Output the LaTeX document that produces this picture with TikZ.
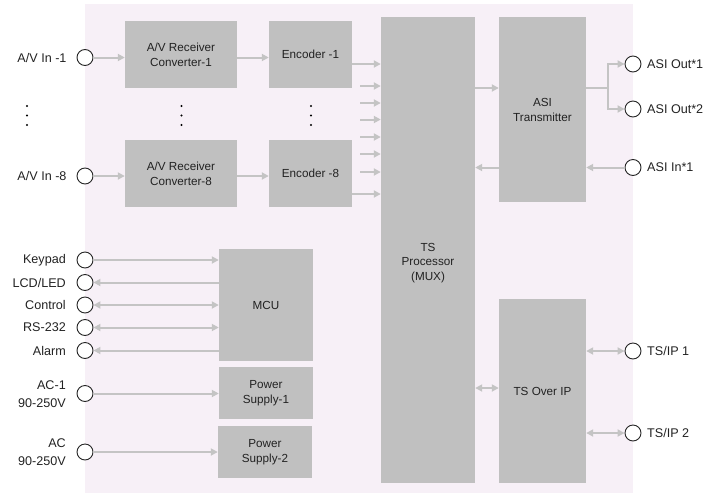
\documentclass[tikz,border=0pt]{standalone}
\usepackage{fontspec}
\setmainfont{Liberation Sans}
\usetikzlibrary{arrows.meta}
\definecolor{bgc}{RGB}{247,240,247}
\definecolor{boxc}{RGB}{192,192,192}
\definecolor{arrc}{RGB}{196,196,196}
\definecolor{txtc}{RGB}{34,34,34}
\begin{document}
\begin{tikzpicture}[x=1pt,y=-1pt,
  blk/.style={fill=boxc, draw=none, inner sep=0pt, align=center,
    font=\fontsize{11.7}{15}\selectfont, text=txtc},
  port/.style={circle, draw=black!85, line width=0.9pt, fill=white,
    minimum size=16pt, inner sep=0pt},
  lab/.style={font=\fontsize{12.6}{18}\selectfont, text=txtc, inner sep=0pt},
  conn/.style={draw=arrc, line width=2pt},
  fwd/.style={conn, -{Triangle[length=7pt,width=7pt]}},
  both/.style={conn, {Triangle[length=7pt,width=7pt]}-{Triangle[length=7pt,width=7pt]}},
  dotc/.style={fill=black}
]
\useasboundingbox (0,0) rectangle (704,493);
\fill[bgc] (85,4) rectangle (633,493);

% blocks
\node[blk, minimum width=112pt, minimum height=67pt] (conv1) at (181,54.5) {A/V Receiver\\Converter-1};
\node[blk, minimum width=83pt, minimum height=67pt] (enc1) at (310.5,54.5) {Encoder -1};
\node[blk, minimum width=112pt, minimum height=67pt] (conv8) at (181,173.5) {A/V Receiver\\Converter-8};
\node[blk, minimum width=83pt, minimum height=67pt] (enc8) at (310.5,173.5) {Encoder -8};
\node[blk, minimum width=94pt, minimum height=466pt,
  label={[blk, font=\fontsize{11.7}{14.5}\selectfont, yshift=-13pt]center:{TS\\Processor\\(MUX)}}] (ts) at (428,250) {};
\node[blk, minimum width=87pt, minimum height=185pt] (asi) at (542.5,109.5) {ASI\\Transmitter};
\node[blk, minimum width=87pt, minimum height=184pt] (tsoip) at (542.5,391) {TS Over IP};
\node[blk, minimum width=94pt, minimum height=112pt] (mcu) at (266,305) {MCU};
\node[blk, minimum width=94pt, minimum height=52pt] (ps1) at (266,393) {Power\\Supply-1};
\node[blk, minimum width=94pt, minimum height=52pt] (ps2) at (265,452) {Power\\Supply-2};

% ports
\node[port] (avin1) at (85,57.5) {};
\node[port] (avin8) at (85,176) {};
\node[port] (keypad) at (85,260) {};
\node[port] (lcd) at (85,282.5) {};
\node[port] (control) at (85,305) {};
\node[port] (rs232) at (85,327.5) {};
\node[port] (alarm) at (85,350.5) {};
\node[port] (ac1) at (85,393.5) {};
\node[port] (ac2) at (85,452) {};
\node[port] (asiout1) at (633,64) {};
\node[port] (asiout2) at (633,109) {};
\node[port] (asiin) at (633,167.5) {};
\node[port] (tsip1) at (633,351) {};
\node[port] (tsip2) at (633,433) {};

% labels
\node[lab, anchor=east] (lavin1) at (66.7,57.5) {A/V In -1};
\node[lab, anchor=east] (lavin8) at (66.7,176) {A/V In -8};
\node[lab, anchor=east] (lkeypad) at (66,260) {Keypad};
\node[lab, anchor=east] (llcd) at (66,282.5) {LCD/LED};
\node[lab, anchor=east] (lcontrol) at (66,305) {Control};
\node[lab, anchor=east] (lrs232) at (66,327.5) {RS-232};
\node[lab, anchor=east] (lalarm) at (66,350.5) {Alarm};
\node[lab, anchor=east, align=right] (lac1) at (66,394) {AC-1\\90-250V};
\node[lab, anchor=east, align=right] (lac2) at (66,452) {AC\\90-250V};
\node[lab, anchor=west] (lasiout1) at (647,64) {ASI Out*1};
\node[lab, anchor=west] (lasiout2) at (647,109) {ASI Out*2};
\node[lab, anchor=west] (lasiin) at (647,167.5) {ASI In*1};
\node[lab, anchor=west] (ltsip1) at (647,351) {TS/IP 1};
\node[lab, anchor=west] (ltsip2) at (647,433) {TS/IP 2};

% dots
\foreach \xx in {27,181.5,311}{
  \foreach \yy in {106,115.5,125}{
    \fill[dotc] (\xx,\yy) circle (1.1pt);
  }
}

% video chain
\draw[fwd] (avin1) -- (avin1 -| conv1.west);
\draw[fwd] (conv1.east |- avin1) -- (enc1.west |- avin1);
\draw[fwd] (avin8) -- (avin8 -| conv8.west);
\draw[fwd] (conv8.east |- avin8) -- (enc8.west |- avin8);
\draw[fwd] (enc1.east |- 0,64) -- (ts.west |- 0,64);
\draw[fwd] (enc8.east |- 0,194) -- (ts.west |- 0,194);
\foreach \yy [count=\i] in {86,103,119.5,137,154,172}{
  \coordinate (s\i) at (360,\yy);
  \draw[fwd] (s\i) -- (s\i -| ts.west);
}

% ASI
\coordinate (br) at (608,88);
\draw[fwd] (ts.east |- br) -- (asi.west |- br);
\draw[conn] (asi.east |- br) -- (br);
\draw[fwd] (br) |- (asiout1);
\draw[fwd] (br) |- (asiout2);
\draw[fwd] (asiin) -- (asiin -| asi.east);
\draw[fwd] (asi.west |- asiin) -- (ts.east |- asiin);

% TS over IP
\draw[both] (ts.east |- 0,388) -- (tsoip.west |- 0,388);
\draw[both] (tsoip.east |- tsip1) -- (tsip1);
\draw[both] (tsoip.east |- tsip2) -- (tsip2);

% MCU
\draw[fwd] (keypad) -- (keypad -| mcu.west);
\draw[fwd] (lcd -| mcu.west) -- (lcd);
\draw[both] (control) -- (control -| mcu.west);
\draw[both] (rs232) -- (rs232 -| mcu.west);
\draw[fwd] (alarm -| mcu.west) -- (alarm);

% power
\draw[fwd] (ac1) -- (ac1 -| ps1.west);
\draw[fwd] (ac2) -- (ac2 -| ps2.west);
\end{tikzpicture}
\end{document}
